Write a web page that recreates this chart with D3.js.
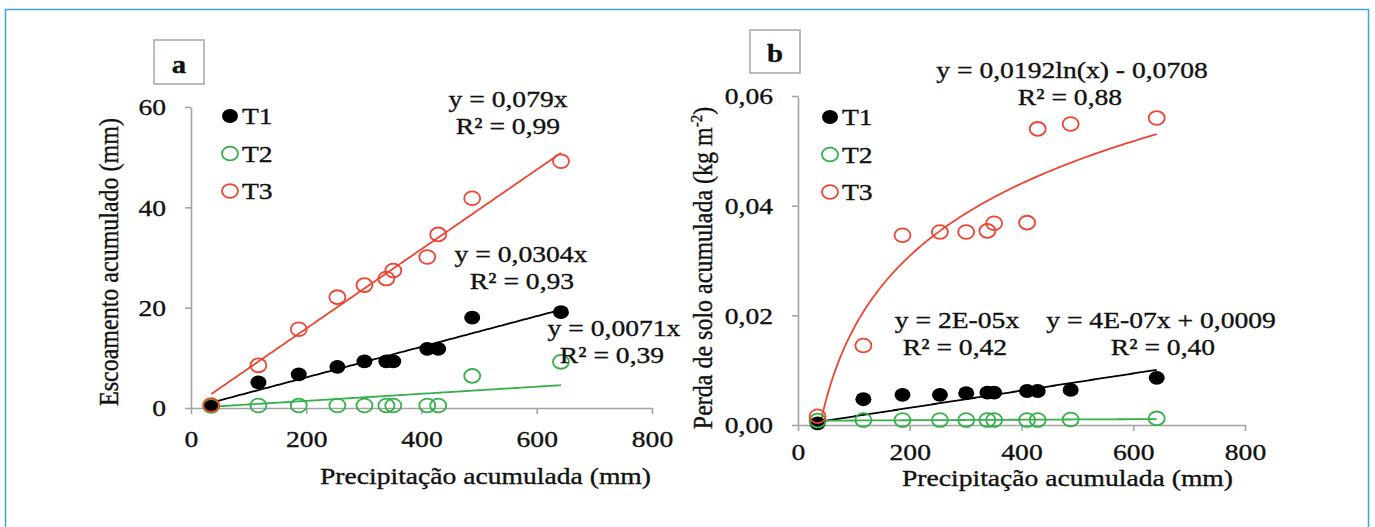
<!DOCTYPE html>
<html>
<head>
<meta charset="utf-8">
<script src="https://cdn.jsdelivr.net/npm/d3@7"></script>
<style>
  html, body { margin: 0; padding: 0; background: #fff; }
  svg { display: block; }
</style>
</head>
<body>
<svg id="chart" width="1375" height="527"></svg>
<script>
// shared x (precipitação acumulada, mm)
const precip = [35, 117, 187, 254, 301, 339, 351, 410, 429, 488, 642];

// panel a: escoamento acumulado (mm)
const runoffT1 = [0.5, 5.1, 6.7, 8.2, 9.3, 9.3, 9.3, 11.8, 11.8, 18.0, 19.1];
const runoffT2 = [0.4, 0.5, 0.5, 0.5, 0.5, 0.5, 0.5, 0.5, 0.5, 6.4, 9.2];
const runoffT3 = [0.6, 8.5, 15.7, 22.1, 24.5, 25.8, 27.4, 30.1, 34.6, 41.8, 49.2];

// panel b: perda de solo acumulada (kg m-2)
const soilT1 = [0.0003, 0.0047, 0.0055, 0.0055, 0.0058, 0.0059, 0.0059, 0.0062, 0.0062, 0.0064, 0.0086];
const soilT2 = [0.0008, 0.0009, 0.0009, 0.0009, 0.0009, 0.0009, 0.0009, 0.0009, 0.0009, 0.0010, 0.0012];
const soilT3 = [0.0016, 0.0145, 0.0346, 0.0352, 0.0352, 0.0354, 0.0368, 0.0369, 0.0540, 0.0549, 0.0560];

const seriesNames = ['T1', 'T2', 'T3'];
const xTicks = [0, 200, 400, 600, 800];
const yTicksA = [0, 20, 40, 60];
const yTicksB = [0, 0.02, 0.04, 0.06];

const eqA = [['y = 0,0304x', 'R² = 0,93'], ['y = 0,0071x', 'R² = 0,39'], ['y = 0,079x', 'R² = 0,99']];
const eqB = [['y = 2E-05x', 'R² = 0,42'], ['y = 4E-07x + 0,0009', 'R² = 0,40'], ['y = 0,0192ln(x) - 0,0708', 'R² = 0,88']];

const FONT = '"Liberation Serif", "Times New Roman", serif';
const SX = 1.15; // the figure is a little stretched horizontally
const AXIS_GREY = '#a3a3a3';
const TEXT_COL = '#111';
const colors = ['#000000', '#35b04b', '#ee4431'];

const svg = d3.select('#chart');

svg.append('rect')
  .attr('x', 5.5).attr('y', 9.5)
  .attr('width', 1363).attr('height', 560)
  .attr('fill', '#fff')
  .attr('stroke', '#3ba6da')
  .attr('stroke-width', 1.5);

// text is drawn a bit heavier, like the scanned original
function inkText(sel) {
  return sel.attr('font-family', FONT).attr('fill', TEXT_COL)
    .attr('stroke', TEXT_COL).attr('stroke-width', 0.35);
}

function addText(g, x, y, txt, anchor, size, weight) {
  return inkText(g.append('text'))
    .attr('transform', `translate(${x},${y}) scale(${SX},1)`)
    .attr('text-anchor', anchor || 'middle')
    .attr('font-size', size || 24)
    .attr('font-weight', weight || 'normal')
    .text(txt);
}

// least squares fits, computed from the points
function fitOrigin(xs, ys) {
  const b = d3.sum(xs, (x, i) => x * ys[i]) / d3.sum(xs, x => x * x);
  return x => b * x;
}
function fitLinear(xs, ys) {
  const mx = d3.mean(xs), my = d3.mean(ys);
  const b = d3.sum(xs, (x, i) => (x - mx) * (ys[i] - my)) / d3.sum(xs, x => (x - mx) * (x - mx));
  return x => my + b * (x - mx);
}
function fitLog(xs, ys) {
  const f = fitLinear(xs.map(Math.log), ys);
  return x => f(Math.log(x));
}

function marker(sel, i) {
  return sel
    .attr('rx', 8).attr('ry', 6.9)
    .attr('fill', i === 0 ? colors[0] : 'none')
    .attr('stroke', colors[i])
    .attr('stroke-width', i === 0 ? 0 : 1.8);
}

function drawPanel(cfg) {
  const g = svg.append('g');
  const x = d3.scaleLinear().domain([0, 800]).range(cfg.xRange);
  const y = d3.scaleLinear().domain(cfg.yDomain).range(cfg.yRange);

  // letter box
  g.append('rect')
    .attr('x', cfg.box[0]).attr('y', cfg.box[1])
    .attr('width', cfg.box[2]).attr('height', cfg.box[3])
    .attr('fill', 'none').attr('stroke', '#a6a6a6').attr('stroke-width', 1.5);
  addText(g, cfg.box[0] + cfg.box[2] / 2, cfg.letterY, cfg.letter, 'middle', 25, 'bold');

  // axes
  const yAxis = g.append('g')
    .attr('transform', `translate(${cfg.xRange[0]},0)`)
    .call(d3.axisLeft(y).tickValues(cfg.yTicks).tickFormat(cfg.yFormat).tickSize(6).tickSizeOuter(0));
  const xAxis = g.append('g')
    .attr('transform', `translate(0,${cfg.yRange[0]})`)
    .call(d3.axisBottom(x).tickValues(xTicks).tickFormat(d3.format('d')).tickSize(6).tickSizeOuter(0));

  [yAxis, xAxis].forEach(ax => {
    ax.attr('font-family', null).attr('font-size', null);
    ax.select('.domain').attr('stroke', AXIS_GREY).attr('stroke-width', 1.6);
    ax.selectAll('.tick line').attr('stroke', AXIS_GREY).attr('stroke-width', 1.6);
    inkText(ax.selectAll('.tick text')).attr('font-size', 24);
  });
  yAxis.selectAll('.tick text')
    .attr('x', null)
    .attr('transform', `translate(-25,0) scale(${SX},1)`);
  xAxis.selectAll('.tick text')
    .attr('y', null).attr('dy', null)
    .attr('transform', `translate(0,${cfg.xLabelBase}) scale(${SX},1)`);

  // axis titles
  addText(g, d3.mean(cfg.xRange) + cfg.xTitleShift, cfg.xTitleY, 'Precipitação acumulada (mm)');
  const yt = inkText(g.append('text'))
    .attr('transform', `translate(${cfg.yTitleX},${cfg.yTitleY}) scale(${SX},1) rotate(-90)`)
    .attr('text-anchor', 'middle')
    .attr('font-size', 24);
  yt.append('tspan').text(cfg.yTitle[0]);
  if (cfg.yTitle[1]) {
    yt.append('tspan').attr('font-size', 15).attr('dy', -9).text(cfg.yTitle[1]);
    yt.append('tspan').attr('dy', 9).text(cfg.yTitle[2]);
  }

  // trendlines, clipped to the plot area
  const clipId = 'clip-' + cfg.letter;
  g.append('clipPath').attr('id', clipId).append('rect')
    .attr('x', cfg.xRange[0]).attr('y', cfg.yRange[1])
    .attr('width', cfg.xRange[1] - cfg.xRange[0])
    .attr('height', cfg.yRange[0] - cfg.yRange[1]);
  const xMin = d3.min(precip), xMax = d3.max(precip);
  const line = d3.line().x(d => x(d[0])).y(d => y(d[1]));
  cfg.series.forEach((ys, i) => {
    const f = cfg.fits[i](precip, ys);
    const xs = d3.range(0, 201).map(k => xMin + (xMax - xMin) * k / 200);
    g.append('path')
      .attr('clip-path', `url(#${clipId})`)
      .attr('d', line(xs.map(v => [v, f(v)])))
      .attr('fill', 'none')
      .attr('stroke', colors[i])
      .attr('stroke-width', 1.8);
  });

  // markers
  cfg.series.forEach((ys, i) => {
    g.append('g').selectAll('ellipse')
      .data(ys)
      .join('ellipse')
      .attr('cx', (d, k) => x(precip[k]))
      .attr('cy', d => y(d))
      .call(marker, i);
  });

  // legend
  seriesNames.forEach((name, i) => {
    const ly = cfg.legend[1] + i * 37.5;
    g.append('ellipse')
      .attr('cx', cfg.legend[0]).attr('cy', ly)
      .call(marker, i);
    addText(g, cfg.legend[0] + 12, ly, name, 'start').attr('dy', '0.34em');
  });

  // trendline equations
  cfg.eqs.forEach((pair, i) => {
    const p = cfg.eqPos[i];
    addText(g, p[0], p[1], pair[0]);
    addText(g, p[2], p[1] + 27, pair[1]);
  });
}

drawPanel({
  letter: 'a',
  box: [154, 40, 50, 44],
  letterY: 73,
  xRange: [191, 652],
  yRange: [408, 107],
  yDomain: [0, 60],
  yTicks: yTicksA,
  yFormat: d3.format('d'),
  xLabelBase: 39,
  xTitleShift: 64,
  xTitleY: 484,
  yTitleX: 118,
  yTitleY: 262,
  yTitle: ['Escoamento acumulado (mm)'],
  series: [runoffT1, runoffT2, runoffT3],
  fits: [fitOrigin, fitOrigin, fitOrigin],
  legend: [230, 116],
  eqs: eqA,
  eqPos: [[521, 262, 522], [614, 336, 612], [508, 107, 508]]
});

drawPanel({
  letter: 'b',
  box: [750, 30, 50, 43],
  letterY: 62,
  xRange: [798, 1245],
  yRange: [425, 96],
  yDomain: [0, 0.06],
  yTicks: yTicksB,
  yFormat: d => d3.format('.2f')(d).replace('.', ','),
  xLabelBase: 35,
  xTitleShift: 46,
  xTitleY: 486,
  yTitleX: 712,
  yTitleY: 268,
  yTitle: ['Perda de solo acumulada (kg m', '-2', ')'],
  series: [soilT1, soilT2, soilT3],
  fits: [fitOrigin, fitLinear, fitLog],
  legend: [830, 117],
  eqs: eqB,
  eqPos: [[957, 328, 955], [1161, 328, 1163], [1072, 78, 1070]]
});
</script>
</body>
</html>
